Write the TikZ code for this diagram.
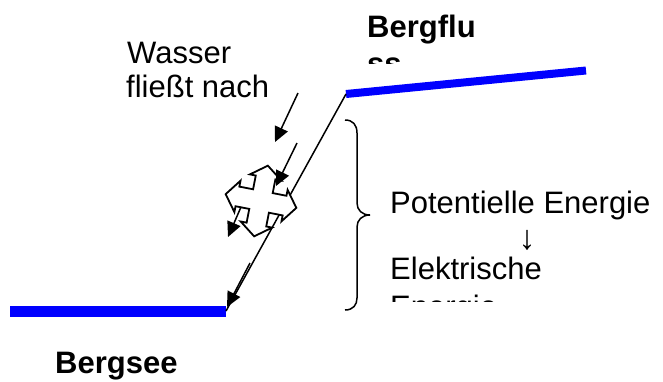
\documentclass[tikz,border=0pt]{standalone}
\usepackage{fontspec}
\setmainfont{Liberation Sans}
\usetikzlibrary{arrows.meta}
\begin{document}
\begin{tikzpicture}[x=1pt,y=-1pt,
  lbl/.style={anchor=base west,inner sep=0pt,font=\fontsize{31}{34}\selectfont},
  blbl/.style={lbl,font=\fontsize{31}{34}\selectfont\bfseries},
  water/.style={draw=blue,line cap=butt},
  flow/.style={line width=1.5pt,-{Triangle[length=15pt,width=14pt]}},
  thin/.style={line width=1.5pt},
  star/.style={draw=black,fill=white,line width=1.8pt,line join=miter}]
\useasboundingbox (0,0) rectangle (663,381);
% coordinates
\coordinate (lakeL) at (10,311);
\coordinate (lakeR) at (226,311);
\coordinate (riverL) at (346,94);
\coordinate (riverR) at (586,70.5);
\coordinate (a1s) at (298,93);  \coordinate (a1e) at (275,142);
\coordinate (a2s) at (297,143); \coordinate (a2e) at (276,186);
\coordinate (a3s) at (241,207); \coordinate (a3e) at (228,237);
\coordinate (a4s) at (250,263); \coordinate (a4e) at (227,307);
% water lines
\draw[water,line width=11pt] (lakeL) -- (lakeR);
\draw[water,line width=8pt] (riverL) -- (riverR);
% slope (pipe)
\draw[thin] (lakeR) -- (riverL);
% turbine star (quad arrow)
\begin{scope}[shift={(261,201)},rotate=-11]
\draw[star] (10,-10) -- (24,-10) -- (24,-16) -- (36,0) -- (24,16) -- (24,10) -- (10,10)
  -- (10,24) -- (16,24) -- (0,36) -- (-16,24) -- (-10,24) -- (-10,10)
  -- (-24,10) -- (-24,16) -- (-36,0) -- (-24,-16) -- (-24,-10) -- (-10,-10)
  -- (-10,-24) -- (-16,-24) -- (0,-36) -- (16,-24) -- (10,-24) -- cycle;
\end{scope}
% flow arrows
\draw[flow] (a1s) -- (a1e);
\draw[flow] (a2s) -- (a2e);
\draw[flow] (a3s) -- (a3e);
\draw[flow] (a4s) -- (a4e);
% brace
\draw[thin] (345,120) .. controls (353,120) and (357,125) .. (357,133) -- (357,203)
  .. controls (357,210) and (362,215) .. (370,215)
  .. controls (362,215) and (357,220) .. (357,227) -- (357,298)
  .. controls (357,305) and (353,310) .. (345,310);
% texts
\node[lbl] (wasser) at (127,63) {Wasser};
\node[lbl] (fliesst) at (126,97) {fließt nach};
\node[blbl] (bergflu) at (367,37) {Bergflu};
\begin{scope}
\clip (360,40) rectangle (480,63);
\node[blbl] (ss) at (367,74) {ss};
\end{scope}
\node[blbl] (bergsee) at (55,373) {Bergsee};
\node[lbl] (pot) at (390,213) {Potentielle Energie};
\node[inner sep=0pt,font=\fontsize{34}{36}\selectfont] (down) at (527,240) {↓};
\node[lbl] (elek) at (390,279) {Elektrische};
\begin{scope}
\clip (380,285) rectangle (560,301);
\node[lbl] (energie) at (390,317) {Energie};
\end{scope}
\end{tikzpicture}
\end{document}
